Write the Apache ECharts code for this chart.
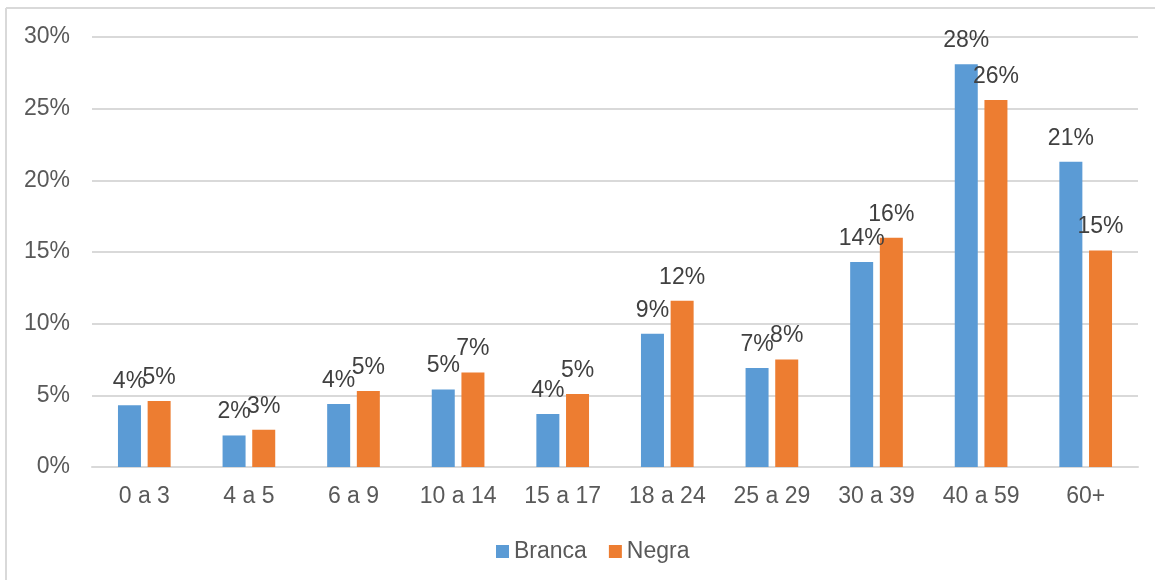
<!DOCTYPE html>
<html>
<head>
<meta charset="utf-8">
<script src="https://cdn.jsdelivr.net/npm/echarts@6/dist/echarts.min.js"></script>
<style>
  html, body { margin: 0; padding: 0; background: #fff; }
  #app { width: 1155px; height: 580px; }
</style>
</head>
<body>
<div id="app"></div>
<script>
const categories = ['0 a 3', '4 a 5', '6 a 9', '10 a 14', '15 a 17', '18 a 24', '25 a 29', '30 a 39', '40 a 59', '60+']
const branca = [4.3, 2.2, 4.4, 5.4, 3.7, 9.3, 6.9, 14.3, 28.1, 21.3]
const negra = [4.6, 2.6, 5.3, 6.6, 5.1, 11.6, 7.5, 16.0, 25.6, 15.1]
const seriesNames = ['Branca', 'Negra']

const font = '"Liberation Sans", Arial, sans-serif'
const echart = echarts.init(document.getElementById('app'))

const labelStyle = {
  show: true,
  position: 'top',
  distance: 12,
  color: '#404040',
  fontSize: 23,
  fontFamily: font,
  formatter(p) {
    return Math.round(p.value) + '%'
  }
}

echart.setOption({
  animation: false,
  textStyle: { fontFamily: font },
  grid: {
    left: 92,
    right: 17,
    top: 37,
    bottom: 113
  },
  // frame lines of the chart area
  graphic: [
    { type: 'line', shape: { x1: 6, y1: 8, x2: 1155, y2: 8 }, style: { stroke: '#d9d9d9', lineWidth: 2 } },
    { type: 'line', shape: { x1: 6, y1: 8, x2: 6, y2: 580 }, style: { stroke: '#d9d9d9', lineWidth: 2 } }
  ],
  xAxis: {
    type: 'category',
    data: categories,
    axisTick: { show: false },
    axisLine: { lineStyle: { color: '#d9d9d9', width: 2 } },
    axisLabel: {
      color: '#595959',
      fontSize: 23,
      fontFamily: font,
      margin: 18,
      interval: 0
    }
  },
  yAxis: {
    type: 'value',
    min: 0,
    max: 30,
    interval: 5,
    axisLine: { show: false },
    axisTick: { show: false },
    splitLine: { lineStyle: { color: '#d9d9d9', width: 2 } },
    axisLabel: {
      color: '#595959',
      fontSize: 23,
      fontFamily: font,
      margin: 22,
      formatter: '{value}%'
    }
  },
  legend: {
    data: seriesNames,
    left: 491,
    top: 535,
    icon: 'rect',
    itemWidth: 13,
    itemHeight: 13,
    itemGap: 22,
    textStyle: {
      color: '#595959',
      fontSize: 23,
      fontFamily: font,
      padding: [0, 0, 0, 0]
    }
  },
  series: [
    {
      type: 'bar',
      name: seriesNames[0],
      data: branca,
      barWidth: 23,
      barGap: '29%',
      itemStyle: { color: '#5b9bd5' },
      label: labelStyle
    },
    {
      type: 'bar',
      name: seriesNames[1],
      data: negra,
      barWidth: 23,
      barGap: '29%',
      itemStyle: { color: '#ed7d31' },
      label: labelStyle
    }
  ]
})
</script>
</body>
</html>
